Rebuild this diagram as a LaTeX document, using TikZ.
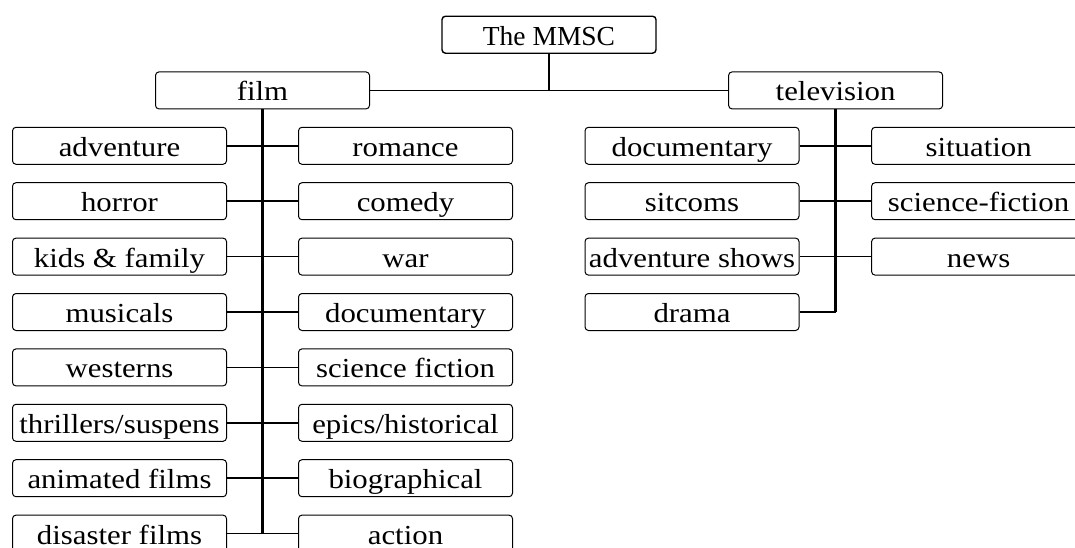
\documentclass[tikz,border=0pt]{standalone}
\usepackage{fontspec}
\setmainfont{Liberation Serif}
\newfontfamily\boxfont[FakeStretch=1.12]{Liberation Serif}
\begin{document}
\begin{tikzpicture}[x=0.5pt,y=-0.5pt,
    box/.style={draw, rounded corners=1.75pt, line width=0.5pt, minimum width=107pt, minimum height=18.5pt, inner sep=0pt, text height=10.7pt, text depth=0.2pt, font=\boxfont\fontsize{13.75}{15}\selectfont},
    rootbox/.style={box, line width=0.7pt, font=\fontsize{13.75}{15}\selectfont},
    link/.style={line width=0.85pt},
    trunk/.style={line width=1.35pt}]
    \useasboundingbox (0,0) rectangle (1075,547);
    \node[rootbox] (root) at (549,34.7){The MMSC};
    \node[box] (film) at (262.5,90.4){film};
    \node[box] (tv) at (835.6,90.4){television};
    \draw[link](film.east) -- (tv.west);
    \draw[link](root.south) -- (root.south |- film.east);
    % film
    \node[box] (fl1) at (119.5,145.8){adventure};
    \node[box] (fr1) at (405.5,145.8){romance};
    \node[box] (fl2) at (119.5,201.2){horror};
    \node[box] (fr2) at (405.5,201.2){comedy};
    \node[box] (fl3) at (119.5,256.6){kids \& family};
    \node[box] (fr3) at (405.5,256.6){war};
    \node[box] (fl4) at (119.5,312){musicals};
    \node[box] (fr4) at (405.5,312){documentary};
    \node[box] (fl5) at (119.5,367.4){westerns};
    \node[box] (fr5) at (405.5,367.4){science fiction};
    \node[box] (fl6) at (119.5,422.8){thrillers/suspens};
    \node[box] (fr6) at (405.5,422.8){epics/historical};
    \node[box] (fl7) at (119.5,478.2){animated films};
    \node[box] (fr7) at (405.5,478.2){biographical};
    \node[box] (fl8) at (119.5,533.6){disaster films};
    \node[box] (fr8) at (405.5,533.6){action};
    \draw[link](fl1) -- (fr1);
    \draw[link](fl2) -- (fr2);
    \draw[link](fl3) -- (fr3);
    \draw[link](fl4) -- (fr4);
    \draw[link](fl5) -- (fr5);
    \draw[link](fl6) -- (fr6);
    \draw[link](fl7) -- (fr7);
    \draw[link](fl8) -- (fr8);
    \draw[trunk](film.south) -- (film.south |- fl8.east);
    % television
    \node[box] (tl1) at (692,145.8){documentary};
    \node[box] (tr1) at (978.6,145.8){situation};
    \node[box] (tl2) at (692,201.2){sitcoms};
    \node[box] (tr2) at (978.6,201.2){science-fiction};
    \node[box] (tl3) at (692,256.6){adventure shows};
    \node[box] (tr3) at (978.6,256.6){news};
    \node[box] (tl4) at (692,312){drama};
    \draw[link](tl1) -- (tr1);
    \draw[link](tl2) -- (tr2);
    \draw[link](tl3) -- (tr3);
    \draw[link](tl4.east) -| (tv.south |- tl4.east);
    \draw[trunk](tv.south) -- (tv.south |- tl4.east);
\end{tikzpicture}
\end{document}
